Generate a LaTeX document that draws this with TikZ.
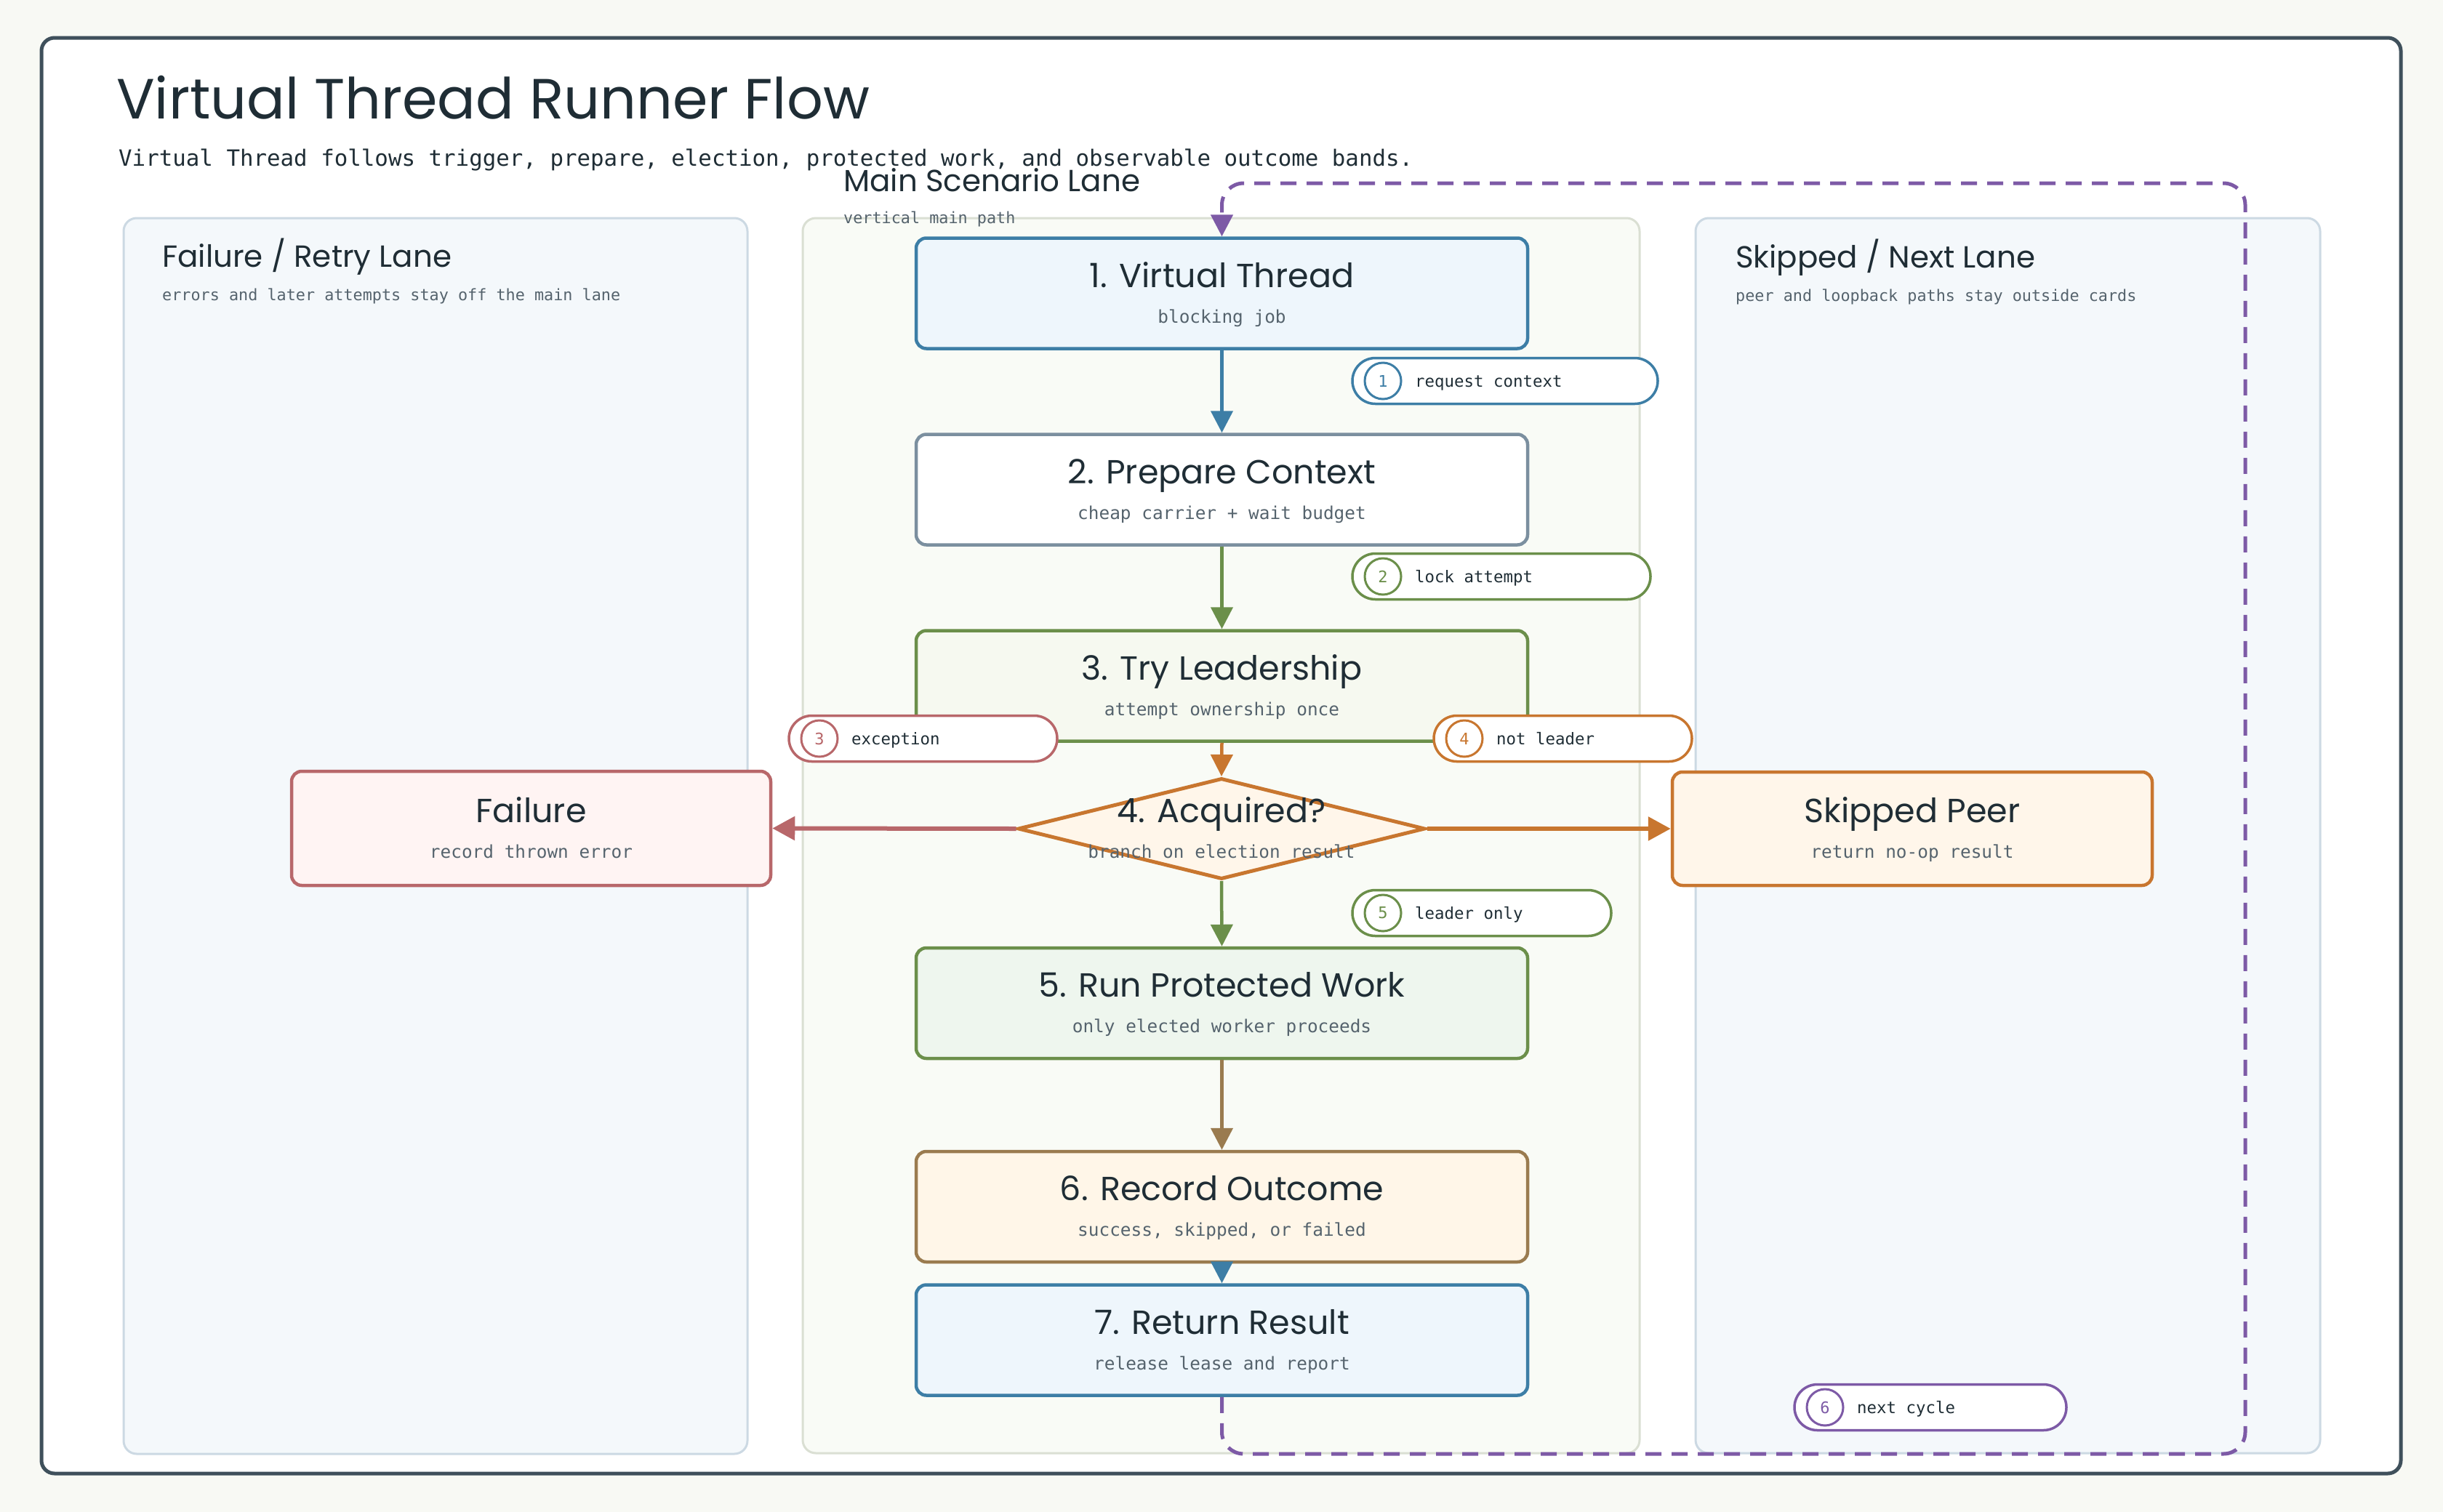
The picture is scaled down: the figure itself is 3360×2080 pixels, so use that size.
\documentclass[tikz,border=0pt]{standalone}
\usepackage{fontspec}
\setmainfont{Poppins}
\newfontfamily\monof{DejaVu Sans Mono}
\usetikzlibrary{arrows.meta,shapes.geometric}
\definecolor{bgc}{HTML}{F8F9F4}
\definecolor{framec}{HTML}{3F505B}
\definecolor{sidefill}{HTML}{F4F8FB}
\definecolor{sidedraw}{HTML}{CCD9E3}
\definecolor{mainfill}{HTML}{F9FBF6}
\definecolor{maindraw}{HTML}{DADFD3}
\definecolor{bluec}{HTML}{3D7EA6}
\definecolor{bluefill}{HTML}{EEF6FC}
\definecolor{slatec}{HTML}{7B8F9F}
\definecolor{greenc}{HTML}{6B8F4A}
\definecolor{greenfill}{HTML}{F6F9F0}
\definecolor{greenfillb}{HTML}{EEF6EE}
\definecolor{orangec}{HTML}{C8762F}
\definecolor{orangefill}{HTML}{FFF6EA}
\definecolor{redc}{HTML}{B8676A}
\definecolor{redfill}{HTML}{FFF4F3}
\definecolor{brownc}{HTML}{9A7B4F}
\definecolor{brownfill}{HTML}{FFF6E8}
\definecolor{purplec}{HTML}{7D5AA6}
\definecolor{inkc}{HTML}{1F2D35}
\definecolor{mutedc}{HTML}{55636D}
\newcommand\BigTitleFont{\fontsize{78}{82}\selectfont}
\newcommand\BigSubFont{\monof\fontsize{30.8}{34}\selectfont}
\newcommand\LaneTitleFont{\fontsize{42}{46}\selectfont}
\newcommand\LaneSubFont{\monof\fontsize{21.8}{24}\selectfont}
\newcommand\NodeTitleFont{\fontsize{46}{50}\selectfont}
\newcommand\NodeSubFont{\monof\fontsize{24.4}{27}\selectfont}
\newcommand\PillFont{\monof\fontsize{22.4}{25}\selectfont}
\newcommand\PillNumFont{\monof\fontsize{22}{24}\selectfont}
\tikzset{
  box/.style={draw, rounded corners=14pt, line width=4.5pt, inner sep=0pt, minimum width=841pt, minimum height=152pt},
  lanebox/.style={rounded corners=18pt, line width=3pt},
  ttl/.style={anchor=base, text=inkc, font=\NodeTitleFont, inner sep=0pt},
  subt/.style={anchor=base, text=mutedc, font=\NodeSubFont, inner sep=0pt},
  flow/.style={line width=4.5pt, -{Triangle[length=30pt,width=30pt]}},
  thickflow/.style={line width=6pt, -{Triangle[length=31pt,width=32pt]}},
  pill/.style={draw, fill=white, rounded corners=31.5pt, line width=3.5pt, minimum height=63pt, inner sep=0pt},
  pcirc/.style={draw, circle, fill=white, line width=3pt, minimum size=50pt, inner sep=0pt, font=\PillNumFont},
  ptext/.style={anchor=base west, text=inkc, font=\PillFont, inner sep=0pt},
  lanettl/.style={anchor=base west, text=inkc, font=\LaneTitleFont, inner sep=0pt},
  lanesub/.style={anchor=base west, text=mutedc, font=\LaneSubFont, inner sep=0pt},
  loopline/.style={draw=purplec, line width=5pt, dash pattern=on 22pt off 14pt, rounded corners=30pt, -{Triangle[length=30pt,width=30pt]}}
}
\begin{document}
\begin{tikzpicture}[x=1pt,y=-1pt]
\useasboundingbox (0,0) rectangle (3360,2080);
\fill[bgc] (0,0) rectangle (3360,2080);
% frame
\draw[framec, fill=white, line width=5pt, rounded corners=18pt] (57,52) rectangle (3302,2027);
% title
\node[anchor=base west, inner sep=0pt, text=inkc, font=\BigTitleFont] (title) at (160,163) {Virtual Thread Runner Flow};
\node[anchor=base west, inner sep=0pt, text=inkc, font=\BigSubFont] (subtitle) at (163,228) {Virtual Thread follows trigger, prepare, election, protected work, and observable outcome bands.};
% lanes
\draw[lanebox, fill=sidefill, draw=sidedraw] (170,300) rectangle (1028,2000);
\draw[lanebox, fill=mainfill, draw=maindraw] (1104,300) rectangle (2255,1999);
\draw[lanebox, fill=sidefill, draw=sidedraw] (2332,300) rectangle (3191,1999);
\node[lanettl] (lt1) at (223,367) {Failure / Retry Lane};
\node[lanesub] (ls1) at (223,413) {errors and later attempts stay off the main lane};
\node[lanettl] (lt2) at (1160,263) {Main Scenario Lane};
\node[lanesub] (ls2) at (1160,307) {vertical main path};
\node[lanettl] (lt3) at (2387,368) {Skipped / Next Lane};
\node[lanesub] (ls3) at (2387,414) {peer and loopback paths stay outside cards};
% main nodes
\node[box, draw=bluec, fill=bluefill] (n1) at (1680.5,403.5) {};
\node[ttl] (n1t) at (1680.5,395) {1. Virtual Thread};
\node[subt] (n1s) at (1680.5,444) {blocking job};
\node[box, draw=slatec, fill=white] (n2) at (1680.5,673.5) {};
\node[ttl] (n2t) at (1680.5,665) {2. Prepare Context};
\node[subt] (n2s) at (1680.5,714) {cheap carrier + wait budget};
\node[box, draw=greenc, fill=greenfill] (n3) at (1680.5,943.5) {};
\node[ttl] (n3t) at (1680.5,935) {3. Try Leadership};
\node[subt] (n3s) at (1680.5,984) {attempt ownership once};
\node[diamond, draw=orangec, fill=orangefill, line width=5pt, inner sep=0pt, minimum width=560pt, minimum height=139pt] (dia) at (1680,1140) {};
\node[ttl] (diat) at (1680,1131.5) {4. Acquired?};
\node[subt] (dias) at (1680,1180.5) {branch on election result};
\node[box, draw=redc, fill=redfill, minimum width=659pt, minimum height=157pt] (fail) at (730.5,1139.5) {};
\node[ttl] (failt) at (730.5,1131) {Failure};
\node[subt] (fails) at (730.5,1180) {record thrown error};
\node[box, draw=orangec, fill=orangefill, minimum width=660pt, minimum height=156pt] (skip) at (2630,1140) {};
\node[ttl] (skipt) at (2630,1131.5) {Skipped Peer};
\node[subt] (skips) at (2630,1180.5) {return no-op result};
\node[box, draw=greenc, fill=greenfillb] (n5) at (1680.5,1380) {};
\node[ttl] (n5t) at (1680.5,1371.5) {5. Run Protected Work};
\node[subt] (n5s) at (1680.5,1420.5) {only elected worker proceeds};
\node[box, draw=brownc, fill=brownfill] (n6) at (1680.5,1660) {};
\node[ttl] (n6t) at (1680.5,1651.5) {6. Record Outcome};
\node[subt] (n6s) at (1680.5,1700.5) {success, skipped, or failed};
\node[box, draw=bluec, fill=bluefill] (n7) at (1680.5,1843.5) {};
\node[ttl] (n7t) at (1680.5,1835) {7. Return Result};
\node[subt] (n7s) at (1680.5,1884) {release lease and report};
% connectors
\draw[flow, bluec] (n1.south) -- (n2.north);
\draw[flow, greenc] (n2.south) -- (n3.north);
\draw[flow, orangec] (n3.south) -- (dia.north);
\draw[thickflow, redc] (dia.west) -- (fail.east);
\draw[thickflow, orangec] (dia.east) -- (skip.west);
\draw[flow, greenc] (dia.south) -- (n5.north);
\draw[flow, brownc] (n5.south) -- (n6.north);
\draw[flow, bluec] (n6.south) -- (n7.north);
\coordinate (lpA) at (1680.5,2000);
\coordinate (lpB) at (3088,2000);
\coordinate (lpC) at (3088,252);
\coordinate (lpD) at (1680.5,252);
\draw[loopline] (n7.south) -- (lpA) -- (lpB) -- (lpC) -- (lpD) -- (n1.north);
% pills
\node[pill, draw=bluec, minimum width=420pt] (p1) at (2070,524) {};
\node[pcirc, draw=bluec, text=bluec] (p1c) at (1902,524) {1};
\node[ptext] (p1t) at (1946,532) {request context};
\node[pill, draw=greenc, minimum width=410pt] (p2) at (2065,793) {};
\node[pcirc, draw=greenc, text=greenc] (p2c) at (1902,793) {2};
\node[ptext] (p2t) at (1946,801) {lock attempt};
\node[pill, draw=redc, minimum width=369pt] (p3) at (1269.5,1016) {};
\node[pcirc, draw=redc, text=redc] (p3c) at (1127,1016) {3};
\node[ptext] (p3t) at (1171,1024) {exception};
\node[pill, draw=orangec, minimum width=355pt] (p4) at (2149.5,1016) {};
\node[pcirc, draw=orangec, text=orangec] (p4c) at (2014,1016) {4};
\node[ptext] (p4t) at (2058,1024) {not leader};
\node[pill, draw=greenc, minimum width=356pt] (p5) at (2038,1256) {};
\node[pcirc, draw=greenc, text=greenc] (p5c) at (1902,1256) {5};
\node[ptext] (p5t) at (1946,1264) {leader only};
\node[pill, draw=purplec, minimum width=374pt] (p6) at (2655,1936) {};
\node[pcirc, draw=purplec, text=purplec] (p6c) at (2510,1936) {6};
\node[ptext] (p6t) at (2554,1944) {next cycle};
\end{tikzpicture}
\end{document}
